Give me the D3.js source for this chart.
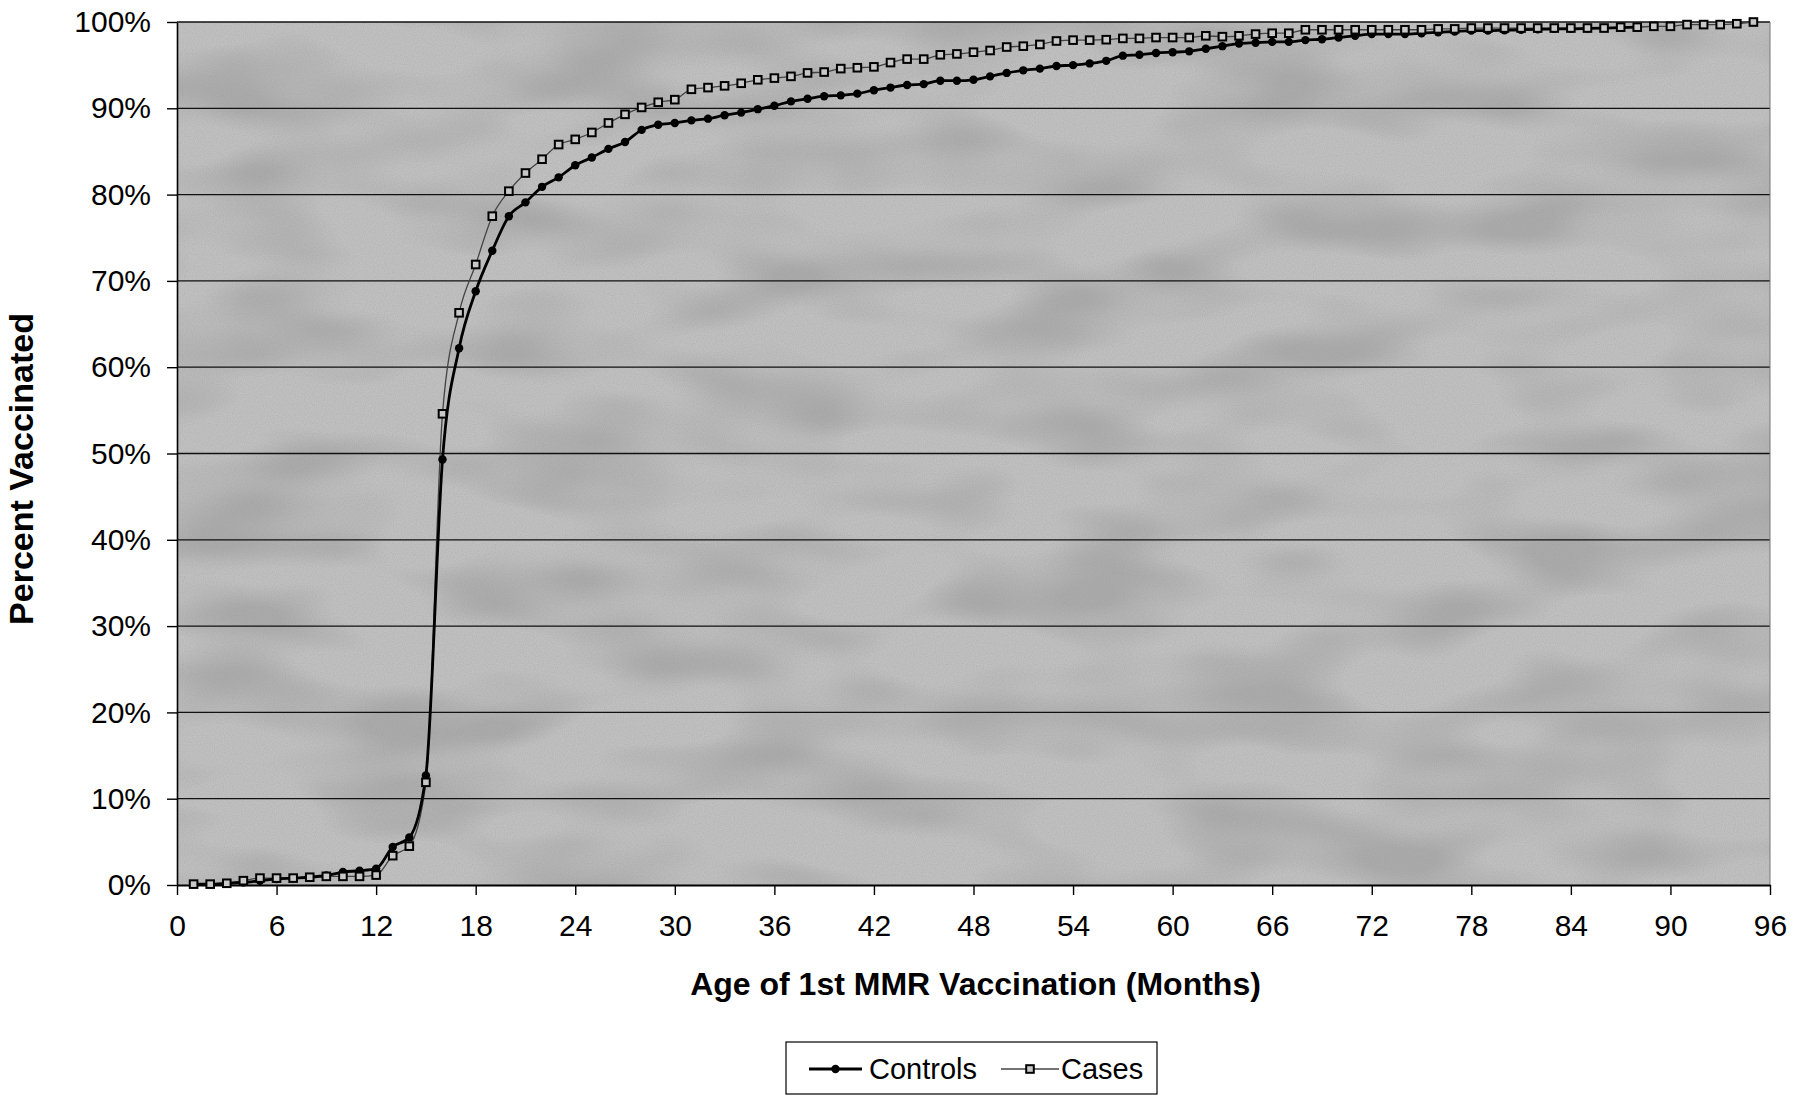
<!DOCTYPE html>
<html>
<head>
<meta charset="utf-8">
<script src="https://cdn.jsdelivr.net/npm/d3@7"></script>
<style>
  html, body { margin: 0; padding: 0; background: #ffffff; }
  svg { display: block; font-family: Arial, "Liberation Sans", sans-serif; }
</style>
</head>
<body>
<svg id="chart" width="1809" height="1097"></svg>
<script>
// ---- data ----
const months = [1,2,3,4,5,6,7,8,9,10,11,12,13,14,15,16,17,18,19,20,21,22,23,24,25,26,27,28,29,30,
  31,32,33,34,35,36,37,38,39,40,41,42,43,44,45,46,47,48,49,50,51,52,53,54,55,56,57,58,59,60,
  61,62,63,64,65,66,67,68,69,70,71,72,73,74,75,76,77,78,79,80,81,82,83,84,85,86,87,88,89,90,
  91,92,93,94,95];

const controls = [
  0.1, 0.1, 0.2, 0.3, 0.5, 0.7, 0.8, 0.9, 1.1, 1.5, 1.65, 1.9, 4.4, 5.5, 12.7,
  49.3, 62.2, 68.8, 73.5, 77.5, 79.1, 80.9, 82.0, 83.4, 84.3, 85.3, 86.1, 87.5, 88.1, 88.3,
  88.6, 88.8, 89.2, 89.5, 89.9, 90.3, 90.8, 91.1, 91.4, 91.5, 91.7, 92.1, 92.4, 92.7, 92.8,
  93.2, 93.2, 93.3, 93.7, 94.1, 94.4, 94.6, 94.9, 95.0, 95.2, 95.5, 96.1, 96.2, 96.4, 96.5,
  96.6, 96.9, 97.2, 97.5, 97.6, 97.7, 97.7, 97.9, 98.0, 98.2, 98.4, 98.6, 98.6, 98.6, 98.7,
  98.8, 98.9, 99.0, 99.0, 99.05, 99.1, 99.15, 99.2, 99.2, 99.25, 99.3, 99.35, 99.4
];

const cases = [
  0.1, 0.1, 0.2, 0.5, 0.8, 0.8, 0.8, 0.9, 1.0, 1.0, 1.0, 1.15, 3.4, 4.5, 11.9,
  54.6, 66.3, 71.9, 77.5, 80.4, 82.5, 84.1, 85.8, 86.4, 87.2, 88.3, 89.3, 90.1, 90.7, 91.0,
  92.2, 92.4, 92.6, 92.9, 93.3, 93.5, 93.7, 94.1, 94.2, 94.6, 94.7, 94.8, 95.3, 95.7, 95.7,
  96.2, 96.3, 96.5, 96.7, 97.1, 97.2, 97.4, 97.8, 97.9, 97.9, 97.95, 98.1, 98.1, 98.2, 98.2,
  98.2, 98.4, 98.3, 98.4, 98.6, 98.7, 98.7, 99.1, 99.1, 99.1, 99.1, 99.1, 99.1, 99.1, 99.1,
  99.2, 99.2, 99.3, 99.3, 99.3, 99.3, 99.3, 99.3, 99.3, 99.3, 99.3, 99.4, 99.4, 99.5, 99.5,
  99.7, 99.7, 99.7, 99.8, 100.0
];

const xTicks = [0,6,12,18,24,30,36,42,48,54,60,66,72,78,84,90,96];
const yTicks = [0,10,20,30,40,50,60,70,80,90,100];

const seriesNames = ["Controls", "Cases"];
const xTitle = "Age of 1st MMR Vaccination (Months)";
const yTitle = "Percent Vaccinated";

// ---- layout ----
const plot = { left: 177, right: 1770, top: 22, bottom: 885 };

const svg = d3.select("#chart");
const x = d3.scaleLinear().domain([0, 96]).range([plot.left, plot.right]);
const y = d3.scaleLinear().domain([0, 100]).range([plot.bottom, plot.top]);

// texture filters for the scanned grey background
const defs = svg.append("defs");
const f = defs.append("filter").attr("id", "tex")
  .attr("x", 0).attr("y", 0).attr("width", 1).attr("height", 1);
f.append("feTurbulence").attr("type", "fractalNoise")
  .attr("baseFrequency", "0.006 0.016").attr("numOctaves", 2).attr("seed", 11).attr("result", "n");
f.append("feColorMatrix").attr("in", "n").attr("type", "matrix")
  .attr("values", "0 0 0 0 0.4  0 0 0 0 0.4  0 0 0 0 0.4  2.8 0 0 0 -1.15");
const f2 = defs.append("filter").attr("id", "grain")
  .attr("x", 0).attr("y", 0).attr("width", 1).attr("height", 1);
f2.append("feTurbulence").attr("type", "fractalNoise")
  .attr("baseFrequency", "0.9").attr("numOctaves", 1).attr("seed", 3).attr("result", "g");
f2.append("feColorMatrix").attr("in", "g").attr("type", "matrix")
  .attr("values", "0 0 0 0 0.3  0 0 0 0 0.3  0 0 0 0 0.3  1.6 0 0 0 -0.6");

// plot background
const bg = svg.append("g");
bg.append("rect")
  .attr("x", plot.left).attr("y", plot.top)
  .attr("width", plot.right - plot.left).attr("height", plot.bottom - plot.top)
  .attr("fill", "#c0c0c0");
bg.append("rect")
  .attr("x", plot.left).attr("y", plot.top)
  .attr("width", plot.right - plot.left).attr("height", plot.bottom - plot.top)
  .attr("fill", "#000").attr("filter", "url(#tex)").attr("opacity", 1);
bg.append("rect")
  .attr("x", plot.left).attr("y", plot.top)
  .attr("width", plot.right - plot.left).attr("height", plot.bottom - plot.top)
  .attr("fill", "#000").attr("filter", "url(#grain)").attr("opacity", 0.35);

// gridlines
svg.append("g").selectAll("line")
  .data(yTicks.filter(d => d > 0))
  .join("line")
  .attr("x1", plot.left).attr("x2", plot.right)
  .attr("y1", d => y(d)).attr("y2", d => y(d))
  .attr("stroke", "#111").attr("stroke-width", 1.3);

// right border (faint)
svg.append("line")
  .attr("x1", plot.right).attr("x2", plot.right)
  .attr("y1", plot.top).attr("y2", plot.bottom)
  .attr("stroke", "#777").attr("stroke-width", 1);

// axes
const yAxis = d3.axisLeft(y).tickValues(yTicks).tickFormat(d => d + "%")
  .tickSizeInner(10).tickSizeOuter(0).tickPadding(16);
const gy = svg.append("g").attr("transform", `translate(${plot.left},0)`).call(yAxis);
gy.select(".domain").attr("stroke", "#000").attr("stroke-width", 1.6);
gy.selectAll(".tick line").attr("stroke", "#000").attr("stroke-width", 1.4);
gy.selectAll(".tick text").attr("font-size", 30).attr("fill", "#000")
  .attr("font-family", "Arial, 'Liberation Sans', sans-serif");

const xAxis = d3.axisBottom(x).tickValues(xTicks).tickFormat(d3.format("d"))
  .tickSizeInner(10).tickSizeOuter(0).tickPadding(20);
const gx = svg.append("g").attr("transform", `translate(0,${plot.bottom})`).call(xAxis);
gx.select(".domain").attr("stroke", "#000").attr("stroke-width", 1.8);
gx.selectAll(".tick line").attr("stroke", "#000").attr("stroke-width", 1.4);
gx.selectAll(".tick text").attr("font-size", 30).attr("fill", "#000")
  .attr("font-family", "Arial, 'Liberation Sans', sans-serif");

// titles
svg.append("text")
  .attr("x", (plot.left + plot.right) / 2 + 2).attr("y", 995)
  .attr("text-anchor", "middle").attr("font-size", 32).attr("font-weight", "bold")
  .text(xTitle);
svg.append("text")
  .attr("transform", "translate(33,469) rotate(-90)")
  .attr("text-anchor", "middle").attr("font-size", 34).attr("font-weight", "bold")
  .text(yTitle);

// series
const ctrlData = controls.map((v, i) => ({ m: months[i], v }));
const caseData = cases.map((v, i) => ({ m: months[i], v }));
const line = d3.line().x(d => x(d.m)).y(d => y(d.v)).curve(d3.curveMonotoneX);

svg.append("path").datum(caseData)
  .attr("d", line).attr("fill", "none")
  .attr("stroke", "#444").attr("stroke-width", 1.3);
svg.append("path").datum(ctrlData)
  .attr("d", line).attr("fill", "none")
  .attr("stroke", "#000").attr("stroke-width", 2.8);

svg.append("g").selectAll("circle").data(ctrlData).join("circle")
  .attr("cx", d => x(d.m)).attr("cy", d => y(d.v)).attr("r", 4.2)
  .attr("fill", "#000");
svg.append("g").selectAll("rect").data(caseData).join("rect")
  .attr("x", d => x(d.m) - 3.8).attr("y", d => y(d.v) - 3.8)
  .attr("width", 7.6).attr("height", 7.6)
  .attr("fill", "#c8c8c8").attr("stroke", "#000").attr("stroke-width", 2);

// legend
const lg = svg.append("g");
lg.append("rect").attr("x", 786).attr("y", 1042).attr("width", 371).attr("height", 52)
  .attr("fill", "#fff").attr("stroke", "#000").attr("stroke-width", 1.2);
lg.append("line").attr("x1", 809).attr("x2", 862).attr("y1", 1069).attr("y2", 1069)
  .attr("stroke", "#000").attr("stroke-width", 2.8);
lg.append("circle").attr("cx", 835.5).attr("cy", 1069).attr("r", 4.2).attr("fill", "#000");
lg.append("text").attr("x", 869).attr("y", 1079).attr("font-size", 29).text(seriesNames[0]);
lg.append("line").attr("x1", 1001).attr("x2", 1059).attr("y1", 1069).attr("y2", 1069)
  .attr("stroke", "#444").attr("stroke-width", 1.3);
lg.append("rect").attr("x", 1030 - 3.8).attr("y", 1069 - 3.8).attr("width", 7.6).attr("height", 7.6)
  .attr("fill", "#c8c8c8").attr("stroke", "#000").attr("stroke-width", 2);
lg.append("text").attr("x", 1061).attr("y", 1079).attr("font-size", 29).text(seriesNames[1]);
</script>
</body>
</html>
